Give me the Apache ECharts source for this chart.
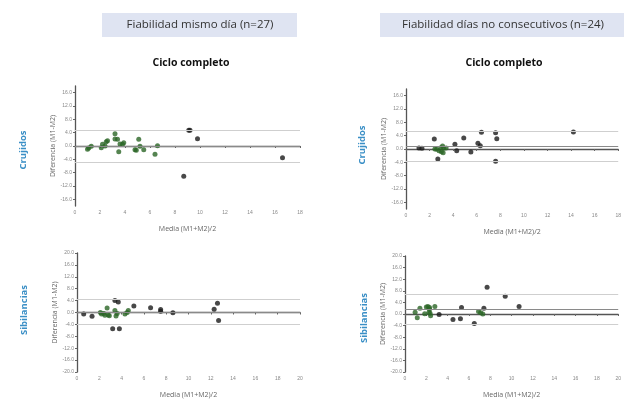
<!DOCTYPE html>
<html><head><meta charset="utf-8">
<script src="https://cdn.jsdelivr.net/npm/echarts@6/dist/echarts.min.js"></script>
<style>html,body{margin:0;padding:0;background:#fff}#c{width:624px;height:399px}</style>
</head><body><div id="c"></div><script>
const columnTitles = ['Fiabilidad mismo día (n=27)', 'Fiabilidad días no consecutivos (n=24)'];
const subTitle = 'Ciclo completo';
const rowTitles = ['Crujidos', 'Sibilancias'];
const xName = 'Media (M1+M2)/2';
const yName = 'Diferencia (M1-M2)';

// Crujidos – mismo día (n=27): [media, diferencia]
const crujMismoVerde = [[1.0,-1.0],[1.1,-0.6],[1.3,-0.1],[2.1,-0.5],[2.2,0.5],[2.4,0],[2.5,1.3],[2.6,1.6],
  [3.2,3.7],[3.2,2.1],[3.4,2.0],[3.5,-1.7],[3.6,0.6],[3.8,0.5],[3.9,1.0],[4.8,-1.1],[4.9,-1.3],
  [5.1,2.0],[5.2,-0.1],[5.5,-1.1],[6.4,-2.5],[6.6,0.1]];
const crujMismoNegro = [[8.7,-9.1],[9.1,4.7],[9.2,4.7],[9.8,2.2],[16.6,-3.5]];
const crujMismoLineas = [4.7, -0.2, -5.0]; // límite superior, sesgo, límite inferior

// Crujidos – días no consecutivos (n=24)
const crujNoConsVerde = [[2.45,0],[2.6,-0.1],[2.8,-0.5],[2.95,0.4],[3.0,-0.8],[3.1,0.9],[3.15,-1.1],[3.2,0.2],[3.4,0.3]];
const crujNoConsNegro = [[1.1,0.3],[1.35,0.2],[2.4,3.0],[2.7,-3.0],[4.15,1.4],[4.3,-0.5],[4.9,3.3],[5.5,-0.9],
  [6.1,1.7],[6.3,1.0],[6.4,5.0],[7.6,4.9],[7.7,3.1],[7.6,-3.7],[14.2,5.1]];
const crujNoConsLineas = [5.2, 0.7, -3.6];

// Sibilancias – mismo día (n=27)
const sibMismoVerde = [[2.1,0],[2.2,-0.5],[2.4,-0.3],[2.5,-0.9],[2.7,1.5],[2.8,-0.8],[2.9,-1.1],
  [3.4,0.7],[3.6,-0.3],[3.5,-1.2],[4.3,-0.5],[4.5,0],[4.6,0.7]];
const sibMismoNegro = [[0.6,-0.5],[1.35,-1.3],[3.2,-5.5],[3.8,-5.5],[3.4,4.0],[3.7,3.5],[5.1,2.2],[6.6,1.6],
  [7.5,0.4],[7.5,1.0],[8.6,-0.1],[12.3,1.1],[12.6,3.1],[12.7,-2.7]];
const sibMismoLineas = [4.5, 0, -4.1];

// Sibilancias – días no consecutivos (n=24)
const sibNoConsVerde = [[0.95,0.6],[1.15,-1.3],[1.4,2.0],[1.85,0.1],[2.0,2.4],[2.15,2.6],[2.25,0.6],[2.3,2.2],
  [2.35,0.3],[2.4,-0.6],[2.3,1.6],[2.8,2.6],[6.9,0.9],[7.1,0.4],[7.3,0]];
const sibNoConsNegro = [[3.2,-0.2],[4.5,-1.9],[5.2,-1.6],[5.3,2.2],[6.5,-3.3],[7.4,2.0],[7.7,9.2],[9.4,6.1],[10.7,2.6]];
const sibNoConsLineas = [6.7, 1.6, -3.6];

const xTicksTop = [0,2,4,6,8,10,12,14,16,18];
const yTicksTop = [-16,-12,-8,-4,0,4,8,12,16];
const xTicksBottom = [0,2,4,6,8,10,12,14,16,18,20];
const yTicksBottom = [-20,-16,-12,-8,-4,0,4,8,12,16,20];

const panels = [
  {verde: crujMismoVerde, negro: crujMismoNegro, lineas: crujMismoLineas, xt: xTicksTop, yt: yTicksTop,
   grid: {left: 75, top: 86, width: 225, height: 120}, ymin: -18, ymax: 18},
  {verde: crujNoConsVerde, negro: crujNoConsNegro, lineas: crujNoConsLineas, xt: xTicksTop, yt: yTicksTop,
   grid: {left: 406, top: 89, width: 217, height: 120}, ymin: -18, ymax: 18},
  {verde: sibMismoVerde, negro: sibMismoNegro, lineas: sibMismoLineas, xt: xTicksBottom, yt: yTicksBottom,
   grid: {left: 77, top: 253, width: 223, height: 123}},
  {verde: sibNoConsVerde, negro: sibNoConsNegro, lineas: sibNoConsLineas, xt: xTicksBottom, yt: yTicksBottom,
   grid: {left: 405, top: 256, width: 218, height: 120}}
];

const axisLine = {lineStyle: {color: '#555', width: 1.3}};
const lblStyle = {fontSize: 5, color: '#888', fontFamily: 'Liberation Sans'};
const nameStyle = {fontSize: 7, color: '#666', fontFamily: 'Open Sans'};

const grids = [], xAxes = [], yAxes = [], series = [];
panels.forEach((p, i) => {
  grids.push(Object.assign({containLabel: false}, p.grid));
  xAxes.push({
    type: 'value', gridIndex: i, min: p.xt[0], max: p.xt[p.xt.length - 1],
    axisLine: axisLine, splitLine: {show: false},
    axisTick: {show: true, length: 2, lineStyle: {color: '#666'}, customValues: p.xt},
    axisLabel: Object.assign({margin: 4, customValues: p.xt}, lblStyle),
    name: xName, nameLocation: 'middle', nameGap: 19, nameTextStyle: nameStyle
  });
  const ymin = p.ymin !== undefined ? p.ymin : p.yt[0];
  const ymax = p.ymax !== undefined ? p.ymax : p.yt[p.yt.length - 1];
  yAxes.push({
    type: 'value', gridIndex: i, min: ymin, max: ymax,
    axisLine: Object.assign({onZero: false}, axisLine), splitLine: {show: false},
    axisTick: {show: true, length: 2, lineStyle: {color: '#666'}, customValues: p.yt},
    axisLabel: Object.assign({margin: 3, customValues: p.yt, formatter: v => v.toFixed(1)}, lblStyle),
    name: yName, nameLocation: 'middle', nameGap: 16, nameTextStyle: nameStyle
  });
  series.push({
    type: 'scatter', xAxisIndex: i, yAxisIndex: i, data: p.negro, symbol: 'circle', symbolSize: 5,
    itemStyle: {color: '#1a1a1a'}, z: 3,
    markLine: {
      silent: true, symbol: ['none', 'none'], label: {show: false}, animation: false,
      data: [
        {yAxis: p.lineas[0], lineStyle: {color: '#cfcfcf', width: 1, type: 'solid'}},
        {yAxis: p.lineas[1], lineStyle: {color: '#8a8a8a', width: 1, type: 'solid'}},
        {yAxis: p.lineas[2], lineStyle: {color: '#cfcfcf', width: 1, type: 'solid'}}
      ]
    }
  });
  series.push({
    type: 'scatter', xAxisIndex: i, yAxisIndex: i, data: p.verde, symbol: 'circle', symbolSize: 5,
    itemStyle: {color: '#2a6526'}, z: 4
  });
});

const headerStyle = {fill: '#333', fontSize: 11.5, fontFamily: 'Open Sans'};
const graphic = [
  {type: 'rect', shape: {x: 102, y: 13, width: 195, height: 24}, style: {fill: '#dfe4f2'}},
  {type: 'rect', shape: {x: 380, y: 13, width: 250, height: 24}, style: {fill: '#dfe4f2'}},
  {type: 'text', x: 200, y: 25, style: Object.assign({text: columnTitles[0], align: 'center', verticalAlign: 'middle'}, headerStyle)},
  {type: 'text', x: 503, y: 25, style: Object.assign({text: columnTitles[1], align: 'center', verticalAlign: 'middle'}, headerStyle)},
  {type: 'text', x: 191, y: 63, style: {text: subTitle, align: 'center', verticalAlign: 'middle', fill: '#111', fontSize: 10.5, fontWeight: 'bold', fontFamily: 'Open Sans'}},
  {type: 'text', x: 504, y: 63, style: {text: subTitle, align: 'center', verticalAlign: 'middle', fill: '#111', fontSize: 10.5, fontWeight: 'bold', fontFamily: 'Open Sans'}},
];
[[23, 150, 0], [362, 145, 0], [24, 310, 1], [364, 318, 1]].forEach(([x, y, r]) => {
  graphic.push({type: 'text', x: x, y: y, rotation: Math.PI / 2,
    style: {text: rowTitles[r], align: 'center', verticalAlign: 'middle', fill: '#3a8fc6', fontSize: 9.5, fontWeight: 'bold', fontFamily: 'Open Sans'}});
});

const chart = echarts.init(document.getElementById('c'), null, {renderer: 'canvas'});
chart.setOption({
  backgroundColor: '#fff', animation: false,
  grid: grids, xAxis: xAxes, yAxis: yAxes, series: series, graphic: graphic
});
</script></body></html>
